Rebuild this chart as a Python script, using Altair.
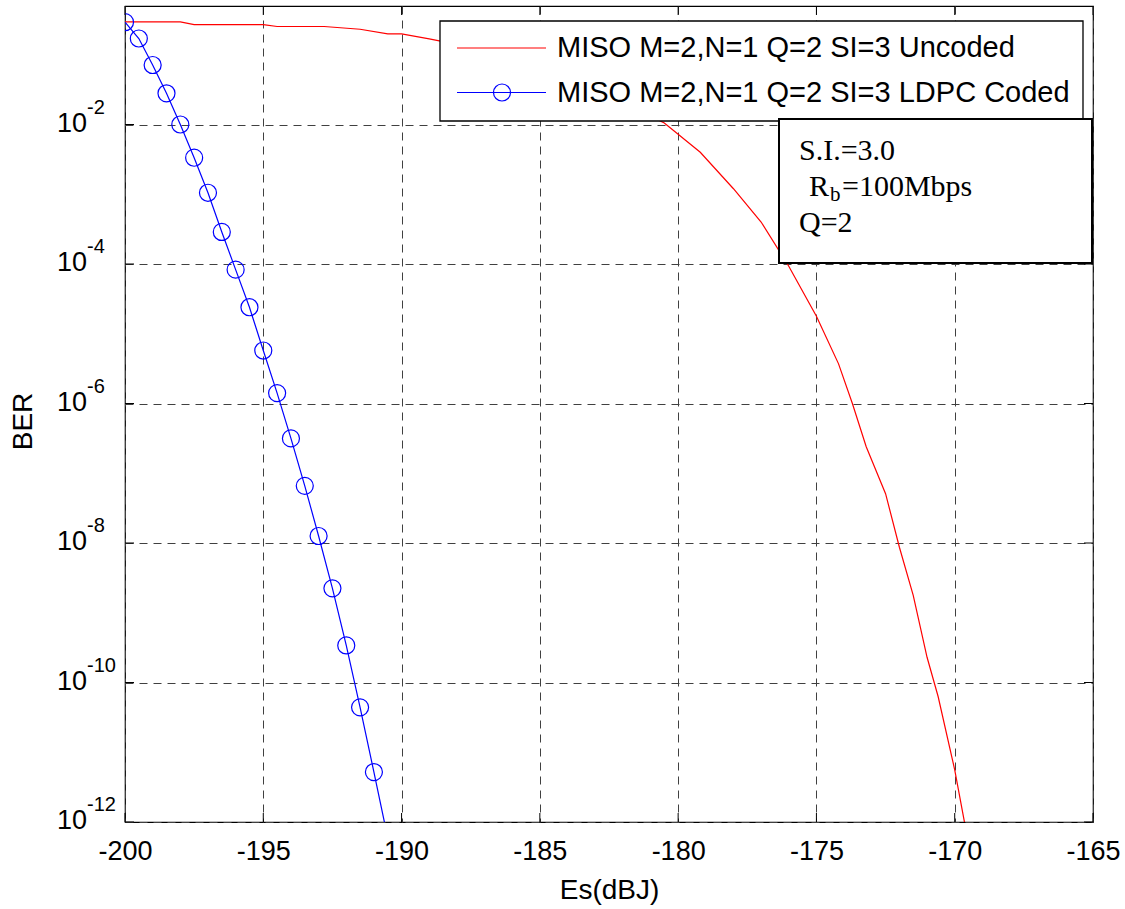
import altair as alt
import pandas as pd

# ---------------- data ----------------
es_uncoded = [-200, -198, -197.5, -195, -194.5, -192.8, -191.5, -190.5, -190, -189,
              -188, -187, -186, -185, -184, -183, -182, -181, -180.5, -179.2,
              -178, -177, -176, -175, -174.2, -173.7, -173.2, -172.5, -172, -171.5,
              -171, -170.6, -170, -169.6]
ber_uncoded = [2.96e-1, 2.96e-1, 2.71e-1, 2.71e-1, 2.54e-1, 2.54e-1, 2.32e-1, 1.99e-1, 1.99e-1, 1.69e-1,
               1.41e-1, 1.12e-1, 8.5e-2, 6.3e-2, 4.5e-2, 3.2e-2, 2.1e-2, 1.32e-2, 1.05e-2, 4.0e-3,
               1.2e-3, 4.0e-4, 9.3e-5, 1.78e-5, 3.7e-6, 1.0e-6, 2.4e-7, 5.1e-8, 8.7e-9, 1.78e-9,
               2.3e-10, 6.3e-11, 5.6e-12, 7.9e-13]

es_coded = [-200, -199.5, -199, -198.5, -198, -197.5, -197, -196.5, -196, -195.5,
            -195, -194.5, -194, -193.5, -193, -192.5, -192, -191.5, -191, -190.5]
ber_coded = [2.93e-1, 1.71e-1, 7.13e-2, 2.8e-2, 1.0e-2, 3.34e-3, 1.05e-3, 2.88e-4, 8.3e-5, 2.4e-5,
             5.75e-6, 1.41e-6, 3.16e-7, 6.6e-8, 1.26e-8, 2.24e-9, 3.4e-10, 4.4e-11, 5.2e-12, 5.9e-13]

x_ticks = [-200, -195, -190, -185, -180, -175, -170, -165]
y_ticks = [1e-2, 1e-4, 1e-6, 1e-8, 1e-10, 1e-12]
y_exps = ["-2", "-4", "-6", "-8", "-10", "-12"]

legend_labels = ["MISO M=2,N=1 Q=2 SI=3 Uncoded", "MISO M=2,N=1 Q=2 SI=3 LDPC Coded"]
note_lines = ["S.I.=3.0", "R", "b", "=100Mbps", "Q=2"]

x_title = "Es(dBJ)"
y_title = "BER"

# ---------------- layout / styles ----------------
W, H = 968, 816
SANS = "Liberation Sans"
SERIF = "Liberation Serif"
RED = "#ff0000"
BLUE = "#0000ff"
GRID = "#404040"

xscale = alt.Scale(domain=[-200, -165], nice=False, zero=False)
yscale = alt.Scale(type="log", domain=[1e-12, 0.5], nice=False)

x_axis = alt.Axis(values=x_ticks, grid=True, gridDash=[8, 6], gridColor=GRID, gridWidth=1,
                  ticks=False, tickSize=0, domain=False,
                  labelFont=SANS, labelFontSize=27, labelColor="black", labelPadding=29,
                  labelBaseline="middle", labelFlush=False, labelOverlap=False,
                  labelExpr="'-' + toString(abs(datum.value))",
                  title=x_title, titleFont=SANS, titleFontSize=28, titleFontWeight="normal",
                  titleColor="black", titleY=68, titleBaseline="middle")
y_axis = alt.Axis(values=y_ticks, grid=True, gridDash=[8, 6], gridColor=GRID, gridWidth=1,
                  ticks=False, tickSize=0, domain=False, labels=False,
                  title=y_title, titleFont=SANS, titleFontSize=28, titleFontWeight="normal",
                  titleColor="black", titleX=-102, titleY=415, titleAngle=270,
                  titleAlign="center", titleBaseline="middle")


def X(field):
    return alt.X(field, scale=xscale, axis=x_axis)


def Y(field):
    return alt.Y(field, scale=yscale, axis=y_axis)


df_u = pd.DataFrame({"es": es_uncoded, "ber": ber_uncoded})
df_c = pd.DataFrame({"es": es_coded, "ber": ber_coded})
xt = pd.DataFrame({"es": x_ticks})
yt = pd.DataFrame({"ber": y_ticks, "exp": y_exps})
one = pd.DataFrame({"a": [0]})

red_line = alt.Chart(df_u).mark_line(color=RED, strokeWidth=1.2, clip=True).encode(
    x=X("es:Q"), y=Y("ber:Q"))

blue_line = alt.Chart(df_c).mark_line(color=BLUE, strokeWidth=1.2, clip=True).encode(
    x=X("es:Q"), y=Y("ber:Q"))

blue_pts = alt.Chart(df_c).mark_point(shape="circle", filled=False, size=290, color=BLUE,
                                      strokeWidth=1.2, opacity=1, clip=True).encode(
    x=X("es:Q"), y=Y("ber:Q"))

TL = 9
tick_bottom = alt.Chart(xt).mark_rule(color="black", strokeWidth=1).encode(
    x=X("es:Q"), y=alt.value(H - TL), y2=alt.value(H))
tick_top = alt.Chart(xt).mark_rule(color="black", strokeWidth=1).encode(
    x=X("es:Q"), y=alt.value(0), y2=alt.value(TL))
tick_left = alt.Chart(yt).mark_rule(color="black", strokeWidth=1).encode(
    y=Y("ber:Q"), x=alt.value(0), x2=alt.value(TL))
tick_right = alt.Chart(yt).mark_rule(color="black", strokeWidth=1).encode(
    y=Y("ber:Q"), x=alt.value(W - TL), x2=alt.value(W))

ylab_base = alt.Chart(yt).mark_text(align="right", baseline="middle", font=SANS, fontSize=27,
                                    color="black", dy=-1).encode(
    y=Y("ber:Q"), x=alt.value(-38), text=alt.value("10"))
ylab_exp = alt.Chart(yt).mark_text(align="left", baseline="middle", font=SANS, fontSize=20,
                                   color="black", dy=-17).encode(
    y=Y("ber:Q"), x=alt.value(-38), text="exp:N")

# legend
leg_box = alt.Chart(one).mark_rect(fill="white", stroke="black", strokeWidth=1.3).encode(
    x=alt.value(315), x2=alt.value(958), y=alt.value(15), y2=alt.value(115))
leg_l1 = alt.Chart(one).mark_rule(color=RED, strokeWidth=1.2).encode(
    x=alt.value(332), x2=alt.value(421), y=alt.value(42))
leg_l2 = alt.Chart(one).mark_rule(color=BLUE, strokeWidth=1.2).encode(
    x=alt.value(332), x2=alt.value(421), y=alt.value(86.5))
leg_p2 = alt.Chart(one).mark_point(shape="circle", filled=False, size=290, color=BLUE,
                                   strokeWidth=1.2, opacity=1).encode(
    x=alt.value(377), y=alt.value(86.5))
leg_t1 = alt.Chart(one).mark_text(align="left", baseline="middle", font=SANS, fontSize=29,
                                  color="black").encode(
    x=alt.value(432), y=alt.value(42), text=alt.value(legend_labels[0]))
leg_t2 = alt.Chart(one).mark_text(align="left", baseline="middle", font=SANS, fontSize=29,
                                  color="black").encode(
    x=alt.value(432), y=alt.value(86.5), text=alt.value(legend_labels[1]))

# annotation box
note_box = alt.Chart(one).mark_rect(fill="white", stroke="black", strokeWidth=2).encode(
    x=alt.value(654), x2=alt.value(967), y=alt.value(113), y2=alt.value(257))


def note_text(txt, x, y, size=30):
    return alt.Chart(one).mark_text(align="left", baseline="alphabetic", font=SERIF,
                                    fontSize=size, color="black").encode(
        x=alt.value(x), y=alt.value(y), text=alt.value(txt))


notes = [
    note_text(note_lines[0], 674, 154),
    note_text(note_lines[1], 684, 190),
    note_text(note_lines[2], 705, 195, 21),
    note_text(note_lines[3], 717, 190),
    note_text(note_lines[4], 674, 225.7),
]

chart = alt.layer(
    red_line, blue_line, blue_pts,
    tick_bottom, tick_top, tick_left, tick_right,
    ylab_base, ylab_exp,
    leg_box, leg_l1, leg_l2, leg_p2, leg_t1, leg_t2,
    note_box, *notes,
).properties(
    width=W, height=H,
    autosize=alt.AutoSizeParams(type="none"),
    padding={"left": 125, "top": 6, "right": 32, "bottom": 87},
    background="white",
).configure_view(stroke="black", strokeWidth=1.2)

chart.save("out.html", embed_options={"renderer": "svg", "actions": False})
